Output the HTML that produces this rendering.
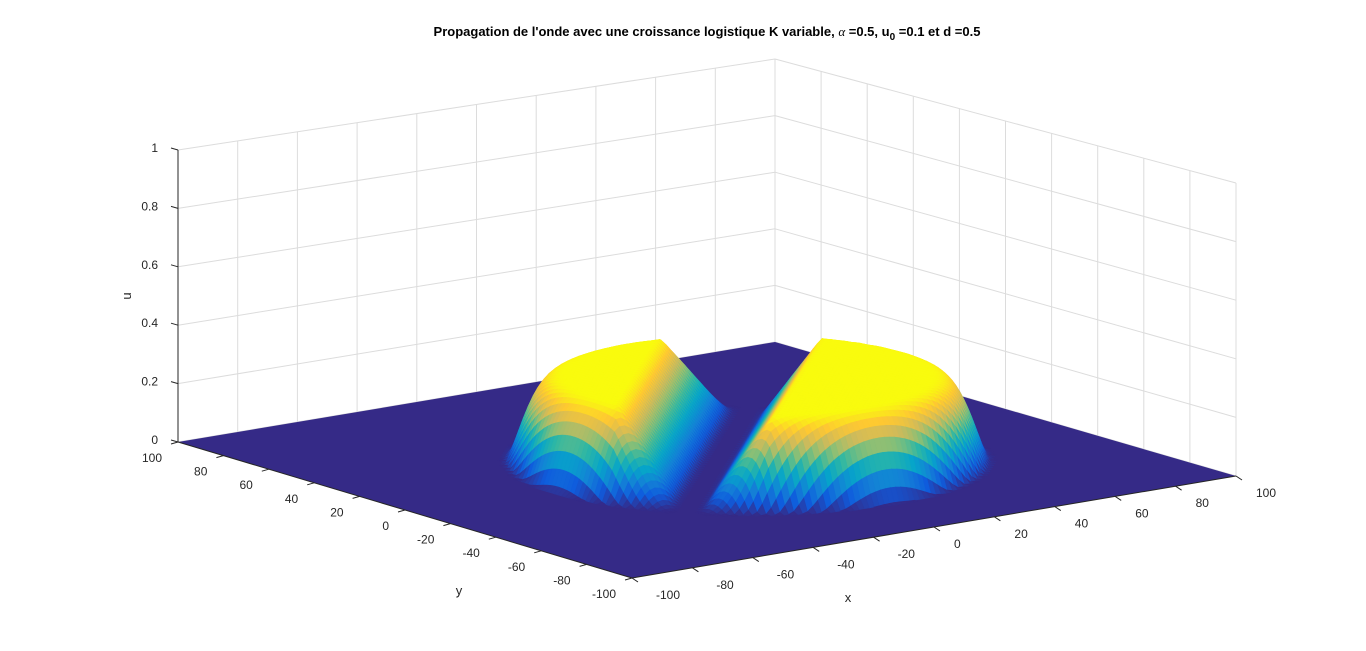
<!DOCTYPE html>
<html><head><meta charset="utf-8"><style>
html,body{margin:0;padding:0;background:#fff;}
svg{display:block;font-family:"Liberation Sans",Arial,sans-serif;}
</style></head><body>
<svg id="chart" width="1366" height="651" viewBox="0 0 1366 651" xmlns="http://www.w3.org/2000/svg">
<rect width="1366" height="651" fill="#fff"/>
<g id="grid"></g>
<g id="surf"></g>
<g id="axes"></g>
<text x="707" y="36" text-anchor="middle" font-size="13" font-weight="bold" fill="#000">Propagation de l'onde avec une croissance logistique K variable,  <tspan font-style="italic" font-weight="normal" font-family="Liberation Serif,serif">α</tspan> =0.5, u<tspan font-size="10" dy="4">0</tspan><tspan dy="-4"> =0.1 et d =0.5</tspan></text>
<text x="0" y="0" transform="translate(131,296) rotate(-90)" text-anchor="middle" font-size="13" fill="#262626">u</text>
<text x="459" y="595" text-anchor="middle" font-size="13" fill="#262626">y</text>
<text x="848" y="602" text-anchor="middle" font-size="13" fill="#262626">x</text>
</svg>
<script>
const xTicks=[-100,-80,-60,-40,-20,0,20,40,60,80,100];
const yTicks=[-100,-80,-60,-40,-20,0,20,40,60,80,100];
const zTicks=[0,0.2,0.4,0.6,0.8,1];
const zTickLabels=["0","0.2","0.4","0.6","0.8","1"];
// surface shape parameters
const plateauHeight=[0.29];
const plateauCenter=[8,-8];
const plateauRadius=[49];
const edgeWidth=[15];
const gapOffset=[-5];
const gapHalfWidth=[4];
const gapRamp=[17];

const NS="http://www.w3.org/2000/svg";
const C={F:[632,578],R:[1236,476],B:[775,342],L:[178,442]};
const H={F:300,R:293,B:283,L:292};
function P(x,y,z){
  const u=(x+100)/200,v=(y+100)/200;
  const px=(1-u)*(1-v)*C.F[0]+u*(1-v)*C.R[0]+u*v*C.B[0]+(1-u)*v*C.L[0];
  const py=(1-u)*(1-v)*C.F[1]+u*(1-v)*C.R[1]+u*v*C.B[1]+(1-u)*v*C.L[1];
  const h=(1-u)*(1-v)*H.F+u*(1-v)*H.R+u*v*H.B+(1-u)*v*H.L;
  return [px,py-z*h];
}
function mk(tag,attrs,parent){const e=document.createElementNS(NS,tag);for(const k in attrs)e.setAttribute(k,attrs[k]);parent.appendChild(e);return e;}
const grid=document.getElementById('grid'),axes=document.getElementById('axes'),surf=document.getElementById('surf');
const gc="#dcdcdc";
function line(a,b,parent,col,w){return mk('line',{x1:a[0].toFixed(1),y1:a[1].toFixed(1),x2:b[0].toFixed(1),y2:b[1].toFixed(1),stroke:col,'stroke-width':w},parent);}
xTicks.forEach(t=>{const l=line(P(t,100,0),P(t,100,1),grid,gc,1);

});
yTicks.forEach(t=>{const l=line(P(100,t,0),P(100,t,1),grid,gc,1);

});
zTicks.forEach(t=>{const a=line(P(-100,100,t),P(100,100,t),grid,gc,1);


const b=line(P(100,100,t),P(100,-100,t),grid,gc,1);

});
const par=[[53,42,135],[15,92,221],[20,129,214],[6,164,202],[46,183,164],[135,191,119],[209,187,89],[254,200,50],[249,251,14]];
function cmap(t){t=Math.max(0,Math.min(1,t))*(par.length-1);const i=Math.min(par.length-2,Math.floor(t)),f=t-i;
const c=par[i].map((v,k)=>Math.round(v+(par[i+1][k]-v)*f));return `rgb(${c[0]},${c[1]},${c[2]})`;}
function U(x,y){
  const r=Math.hypot(x-plateauCenter[0],y-plateauCenter[1]);
  let e=(r-plateauRadius[0])/edgeWidth[0];e=Math.max(0,Math.min(1,e));
  const f=Math.sqrt(1-e*e)*(1-e*e*e);
  const d=Math.abs(x-y+gapOffset[0])/Math.SQRT2;
  let g=(d-gapHalfWidth[0])/gapRamp[0];g=Math.max(0,Math.min(1,g));
  return plateauHeight[0]*f*g;
}
const fl=mk('polygon',{points:[C.F,C.R,C.B,C.L].map(p=>p.join(',')).join(' '),fill:cmap(0)},surf);


const N=120,step=200/N;const Z=[];
for(let i=0;i<=N;i++){Z[i]=[];for(let j=0;j<=N;j++)Z[i][j]=U(-100+i*step,-100+j*step);}
const zmax=plateauHeight[0];
const quads=[];
for(let i=0;i<N;i++)for(let j=0;j<N;j++){
  const zs=[Z[i][j],Z[i+1][j],Z[i+1][j+1],Z[i][j+1]];
  if(Math.max(...zs)<1e-4)continue;
  const x0=-100+i*step,y0=-100+j*step,x1=x0+step,y1=y0+step;
  const pts=[P(x0,y0,zs[0]),P(x1,y0,zs[1]),P(x1,y1,zs[2]),P(x0,y1,zs[3])];
  const depth=P(x0+step/2,y0+step/2,0)[1];
  quads.push({pts,depth,z:(zs[0]+zs[1]+zs[2]+zs[3])/4});
}
quads.sort((a,b)=>a.depth-b.depth);
const frag=document.createDocumentFragment();
quads.forEach(q=>{const c=cmap(q.z/zmax);const e=document.createElementNS(NS,'polygon');
e.setAttribute('points',q.pts.map(p=>p[0].toFixed(1)+','+p[1].toFixed(1)).join(' '));
e.setAttribute('fill',c);e.setAttribute('stroke',c);e.setAttribute('stroke-width','0.6');


frag.appendChild(e);});
surf.appendChild(frag);
const ac="#262626";
let a1=line(P(-100,100,0),P(-100,-100,0),axes,ac,1);
let a2=line(P(-100,-100,0),P(100,-100,0),axes,ac,1);
let a3=line(P(-100,100,0),P(-100,100,1),axes,ac,1);
function txt(s,x,y,anchor,name){const t=mk('text',{x:x.toFixed(1),y:y.toFixed(1),'text-anchor':anchor,'font-size':12,fill:ac},axes);t.textContent=s;

}
xTicks.forEach(t=>{const p=P(t,-100,0);line(p,[p[0]+6,p[1]+4],axes,ac,1);txt(String(t),p[0]+(t<0?24:20),p[1]+21,'start','x-tick-label');});
yTicks.forEach(t=>{const p=P(-100,t,0);line(p,[p[0]-7,p[1]+2],axes,ac,1);txt(String(t),p[0]-16,p[1]+20,'end','y-tick-label');});
zTicks.forEach((t,k)=>{const p=P(-100,100,t);line(p,[p[0]-7,p[1]-2],axes,ac,1);txt(zTickLabels[k],p[0]-20,p[1]+2,'end','z-tick-label');});
</script>
</body></html>
